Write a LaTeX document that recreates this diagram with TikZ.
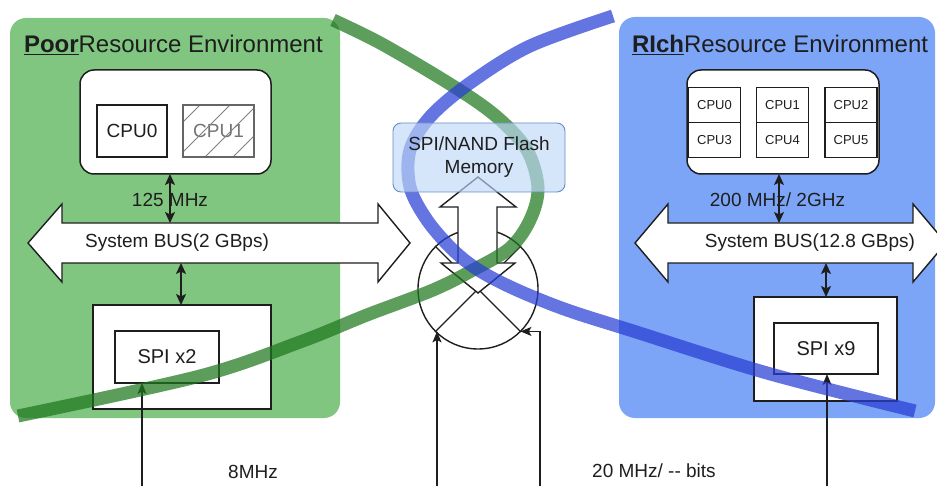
\documentclass[tikz,border=0pt]{standalone}
\usepackage{fontspec}
\setmainfont{Liberation Sans}
\usetikzlibrary{arrows.meta}
\definecolor{envgreen}{RGB}{128,198,128}
\definecolor{envblue}{RGB}{125,165,247}
\definecolor{ink}{RGB}{30,30,30}
\definecolor{loopgreen}{RGB}{30,120,30}
\definecolor{loopblue}{RGB}{40,62,212}
\definecolor{flashfill}{RGB}{190,215,248}
\definecolor{flashedge}{RGB}{105,140,195}
\begin{document}
\begin{tikzpicture}[x=1pt,y=-1pt,
  every node/.style={inner sep=0pt,outer sep=0pt,text=ink},
  lbl/.style={font=\fontsize{19}{22}\selectfont},
  small/.style={font=\fontsize{13}{15}\selectfont},
  titlefont/.style={font=\fontsize{24}{28}\selectfont},
  box/.style={draw=ink,line width=1.5pt,fill=white,rectangle},
  holder/.style={box,rounded corners=14pt},
  cell/.style={box,line width=1.3pt,minimum width=52pt,minimum height=35pt,small},
  bus/.style={draw=ink,line width=1.4pt,fill=white,line join=miter},
  dbl/.style={draw=ink,line width=1.5pt,{Stealth[length=11pt,width=10pt,inset=2.5pt]}-{Stealth[length=11pt,width=10pt,inset=2.5pt]}},
  feed/.style={draw=ink,line width=1.3pt,-{Stealth[length=11pt,width=9pt,inset=2.5pt]}},
  loopline/.style={line width=13pt,opacity=0.72,line cap=butt}
]
\useasboundingbox (0,0) rectangle (937,486);
\clip (0,0) rectangle (937,486);

% environments
\fill[envgreen,rounded corners=16pt] (10,18) rectangle (340,418);
\fill[envblue,rounded corners=16pt] (619,17) rectangle (935,418);

\node[titlefont,anchor=base west] (titleL) at (24,53) {\underline{\textbf{Poor}}Resource Environment};
\node[titlefont,anchor=base west] (titleR) at (632,53) {\underline{\textbf{RIch}}Resource Environment};

% poor side: CPUs
\node[holder,minimum width=191pt,minimum height=104pt] (cpusL) at (175.5,122) {};
\node[box,minimum width=70pt,minimum height=52pt,lbl] (cpu0L) at (132,131) {CPU0};
\node[box,minimum width=71pt,minimum height=52pt,lbl,text=black!55] (cpu1L) at (218.5,131) {CPU1};
\begin{scope}
  \clip (cpu1L.south west) rectangle (cpu1L.north east);
  \foreach \c in {305,335,362,390}
    \draw[black!50,line width=1pt] (\c-105,105) -- (\c-157,157);
\end{scope}
\draw[black!60,line width=1.2pt] (cpu1L.south west) rectangle (cpu1L.north east);

% poor side: bus
\draw[bus] (28,243) -- (62,204) -- (62,223) -- (378,223) -- (378,204) -- (410,243)
  -- (378,282) -- (378,263) -- (62,263) -- (62,282) -- cycle;
\node[lbl] (busL) at (177,243) {System BUS(2 GBps)};
\coordinate (busLtop) at (170,223);
\coordinate (busLbot) at (181,263);

% poor side: SPI
\node[box,minimum width=178pt,minimum height=104pt] (spiOutL) at (182,357) {};
\node[box,minimum width=104pt,minimum height=52pt,font=\fontsize{20}{24}\selectfont] (spiL) at (167,357) {SPI x2};

\draw[dbl] (cpusL.south -| busLtop) -- (busLtop);
\node[lbl] (clkL) at (170,200) {125 MHz};
\draw[dbl] (busLbot) -- (spiOutL.north -| busLbot);

% rich side: CPUs
\node[holder,minimum width=192pt,minimum height=104pt] (cpusR) at (783,122) {};
\node[cell] (c0) at (714.5,105) {CPU0};
\node[cell] (c1) at (782.5,105) {CPU1};
\node[cell] (c2) at (851,105) {CPU2};
\node[cell] (c3) at (714.5,140) {CPU3};
\node[cell] (c4) at (782.5,140) {CPU4};
\node[cell] (c5) at (851,140) {CPU5};

% rich side: bus
\draw[bus] (635,243) -- (668,204) -- (668,223) -- (913,223) -- (913,204) -- (946,243)
  -- (913,282) -- (913,263) -- (668,263) -- (668,282) -- cycle;
\node[lbl] (busR) at (810,243) {System BUS(12.8 GBps)};
\coordinate (busRtop) at (779,223);
\coordinate (busRbot) at (826,263);

% rich side: SPI
\node[box,minimum width=143pt,minimum height=104pt] (spiOutR) at (825.5,349) {};
\node[box,minimum width=104pt,minimum height=51pt,font=\fontsize{20}{24}\selectfont] (spiR) at (826,348.5) {SPI x9};

\draw[dbl] (cpusR.south -| busRtop) -- (busRtop);
\node[lbl] (clkR) at (777.5,200) {200 MHz/ 2GHz};
\draw[dbl] (busRbot) -- (spiOutR.north -| busRbot);

% switch between the two sides
\node[draw=ink,circle,line width=1.4pt,minimum size=120pt] (mux) at (478,289) {};
\draw[ink,line width=1.3pt] (mux.45) -- (mux.-135) (mux.135) -- (mux.-45);
\draw[bus] (478,177) -- (516,207) -- (497,207) -- (497,263) -- (515,263) -- (478,293)
  -- (441,263) -- (458,263) -- (458,207) -- (440,207) -- cycle;

% feeds from below
\coordinate (feedL) at (142,500);
\coordinate (feedA) at (437,500);
\coordinate (feedB) at (540,500);
\coordinate (feedR) at (827,500);
\draw[feed] (feedL) -- (feedL |- spiL.south);
\draw[feed] (feedA) -- (feedA |- mux.-135);
\draw[feed] (feedB) |- (mux.-45);
\draw[feed] (feedR) -- (feedR |- spiR.south);
\node[lbl] (spdL) at (253,472) {8MHz};
\node[lbl] (spdR) at (654,471) {20 MHz/ -{}- bits};

% the two loops
\draw[loopline,loopgreen] plot[smooth,tension=0.55] coordinates {
  (333,20) (382,44) (453,86) (497,117) (527,150) (538,188) (530,220) (510,248)
  (473,270) (433,290) (367,315) (300,342) (200,376) (18,416)};
\draw[loopline,loopblue] plot[smooth,tension=0.55] coordinates {
  (613,16) (530,46) (470,83) (430,117) (410,150) (410,187) (427,220) (453,250)
  (480,271) (517,290) (567,310) (633,331) (767,373) (915,411)};

% flash memory
\node[draw=flashedge,fill=flashfill,fill opacity=0.65,text opacity=1,rounded corners=8pt,
  line width=0.9pt,minimum width=172pt,minimum height=69pt,lbl,align=center] (flash) at (479,157.5)
  {SPI/NAND Flash\\[1pt]Memory};
\end{tikzpicture}
\end{document}
